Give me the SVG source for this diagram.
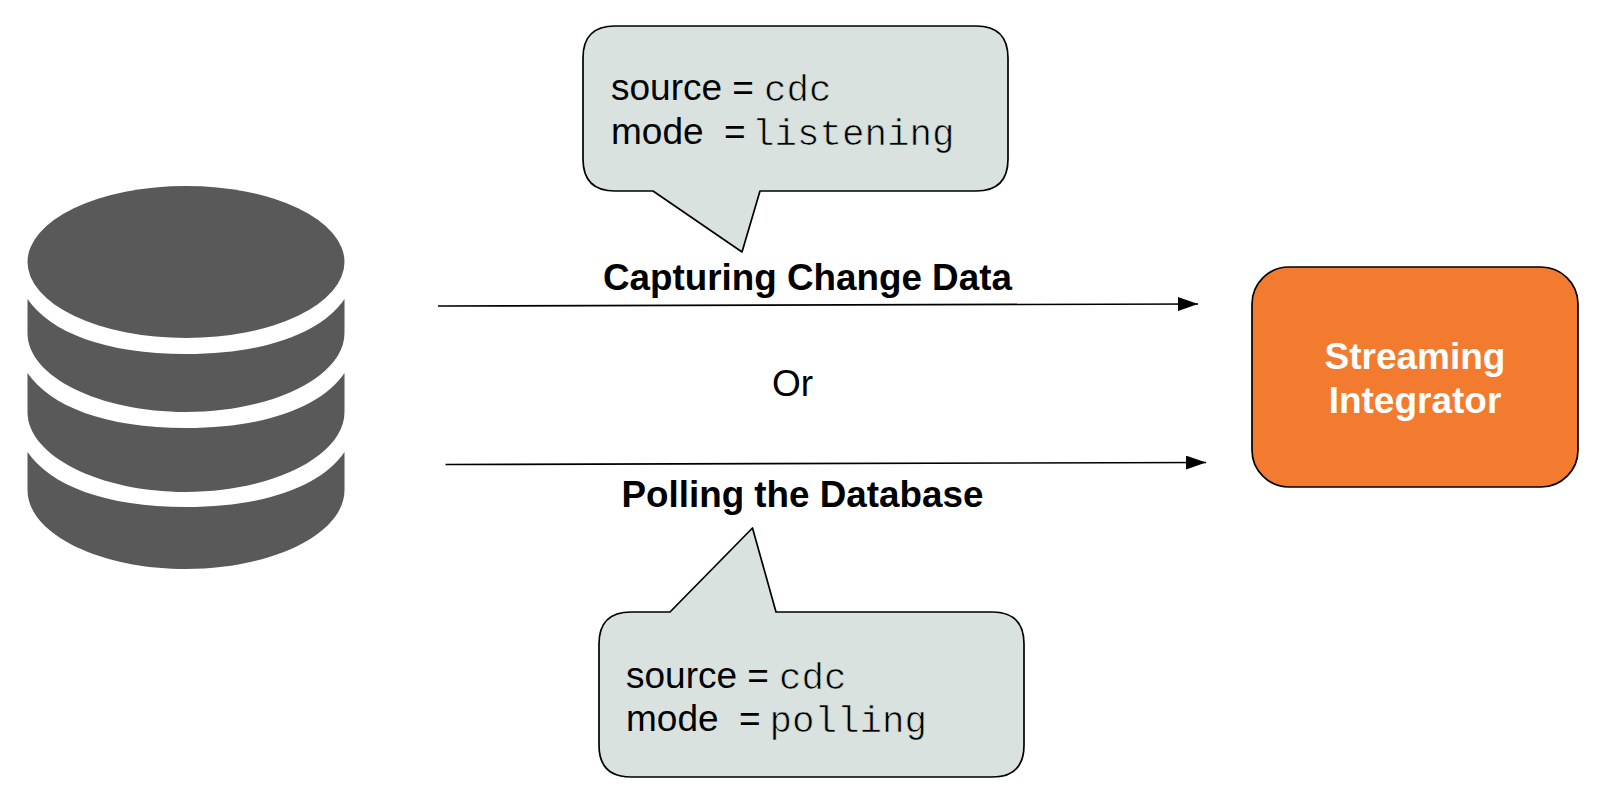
<svg xmlns="http://www.w3.org/2000/svg" width="1606" height="796" viewBox="0 0 1606 796">
<defs><marker id="arr" markerUnits="userSpaceOnUse" markerWidth="20" markerHeight="14" refX="20" refY="7" orient="auto"><path d="M0 0L20 7L0 14Z" fill="#000"/></marker></defs>
<style>
text{white-space:pre}
.s{font-family:"Liberation Sans",Arial,sans-serif;font-size:37px;fill:#000}
.m{font-family:"Liberation Mono","Courier New",monospace;font-size:37.500px;fill:#000;stroke:#d9e2df;stroke-width:.7;paint-order:fill}
.b{font-family:"Liberation Sans",Arial,sans-serif;font-size:36.800px;font-weight:bold;fill:#000}
.w{font-family:"Liberation Sans",Arial,sans-serif;font-size:37px;font-weight:bold;fill:#fff;text-anchor:middle}
.c{fill:#d9e2df;stroke:#000;stroke-width:1.700;stroke-linejoin:round}
.db{fill:#595959}
</style>
<rect width="1606" height="796" fill="#fff"/>
<g id="database">
<path class="db" d="M27.500 299C50 332 105 354 186 354C267 354 322 332 344.500 299V333C344.500 377 272 412 186 412C100 412 27.500 377 27.500 333Z"/>
<path class="db" d="M27.500 373C50 406 105 428 186 428C267 428 322 406 344.500 373V412C344.500 456 272 492 186 492C100 492 27.500 456 27.500 412Z"/>
<path class="db" d="M27.500 452C50 485 105 507 186 507C267 507 322 485 344.500 452V490C344.500 534 272 569 186 569C100 569 27.500 534 27.500 490Z"/>
<ellipse class="db" cx="186" cy="262" rx="158.500" ry="76"/>
</g>
<g id="connectors" fill="none" stroke="#000" stroke-width="1.700">
<path d="M438 306L1198 304" marker-end="url(#arr)"/>
<path d="M445.500 464.500L1206 462.500" marker-end="url(#arr)"/>
</g>
<g id="callout-top">
<path class="c" d="M615 26H976Q1008 26 1008 58V159Q1008 191 976 191H760L742 252L653 191H615Q583 191 583 159V58Q583 26 615 26Z"/>
<text class="s" x="611" y="100">source =</text><text class="m" x="764" y="101">cdc</text>
<text class="s" x="611" y="144">mode  =</text><text class="m" x="752" y="145">listening</text>
</g>
<g id="label-top"><text class="b" x="603" y="290">Capturing Change Data</text></g>
<g id="label-or"><text class="s" x="772" y="396">Or</text></g>
<g id="label-bottom"><text class="b" x="621.500" y="507">Polling the Database</text></g>
<g id="callout-bottom">
<path class="c" d="M631 612H670L752.500 528L776 612H992Q1024 612 1024 644V745Q1024 777 992 777H631Q599 777 599 745V644Q599 612 631 612Z"/>
<text class="s" x="626" y="688">source =</text><text class="m" x="779" y="689">cdc</text>
<text class="s" x="626" y="731">mode  =</text><text class="m" x="769.500" y="732">polling</text>
</g>
<g id="streaming-integrator">
<rect x="1252" y="267" width="326" height="220" rx="37" fill="#f27b30" stroke="#000" stroke-width="1.700"/>
<text class="w" x="1415" y="369">Streaming</text>
<text class="w" x="1415" y="413">Integrator</text>
</g>
</svg>
